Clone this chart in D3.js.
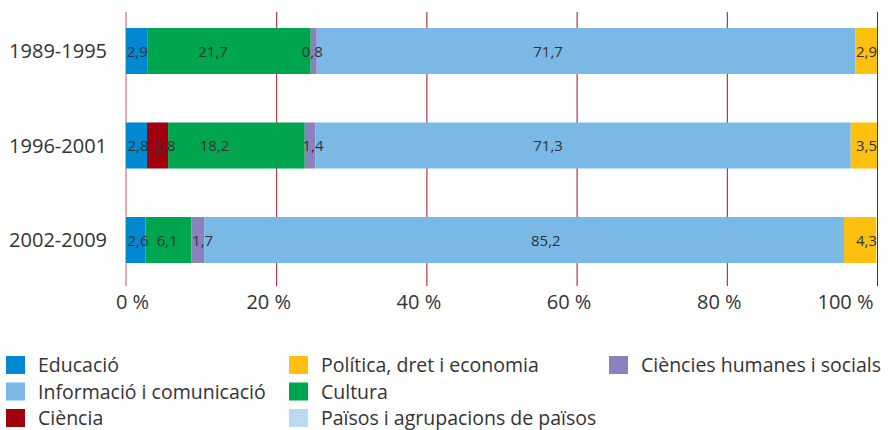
<!DOCTYPE html>
<html>
<head>
<meta charset="utf-8">
<title>Distribució per àmbits</title>
<script src="https://d3js.org/d3.v7.min.js"></script>
<style>
  body { margin: 0; background: #fff; }
  text { font-family: "Open Sans", sans-serif; fill: #333; }
</style>
</head>
<body>
<svg id="chart" width="889" height="430"></svg>
<script>
// periods (rows)
var periods = ["1989-1995", "1996-2001", "2002-2009"];

// segment order inside each bar
var cats = ["Educació", "Ciència", "Cultura", "Ciències humanes i socials",
            "Informació i comunicació", "Política, dret i economia",
            "Països i agrupacions de països"];

var colors = ["#0089d1", "#a0000e", "#00a64f", "#8a81bd",
              "#7ab8e5", "#fdc010", "#bcd9f1"];

// values per category, one per period
var educacio  = [2.9, 2.8, 2.6];
var ciencia   = [0,   2.8, 0];
var cultura   = [21.7, 18.2, 6.1];
var humanes   = [0.8, 1.4, 1.7];
var informacio = [71.7, 71.3, 85.2];
var politica  = [2.9, 3.5, 4.3];
var paisos    = [0, 0, 0];

// where each value label sits (in % along the bar), as in the original
var labelAt = [
  [1.5, null, 11.6, 24.8, 56.2, 98.6, null],
  [1.6, 5.2, 11.8, 24.9, 56.2, 98.6, null],
  [1.6, null, 5.5, 10.2, 55.9, 98.6, null]
];

var ticks = [0, 20, 40, 60, 80, 100];

// legend layout: [category index, column, row]
var legendItems = [
  ["Educació", 0, 0], ["Informació i comunicació", 0, 1], ["Ciència", 0, 2],
  ["Política, dret i economia", 1, 0], ["Cultura", 1, 1],
  ["Països i agrupacions de països", 1, 2], ["Ciències humanes i socials", 2, 0]
];

var series = [educacio, ciencia, cultura, humanes, informacio, politica, paisos];

var svg = d3.select("#chart");

var x = d3.scaleLinear().domain([0, 100]).range([126, 877]);
var y = d3.scaleBand().domain(periods).range([3.75, 287.25])
    .paddingInner(0.513).paddingOuter(0.2565);

var fmt = function(v) { return d3.format(".1f")(v).replace(".", ","); };

// gridlines behind the bars
svg.append("g").selectAll("line")
  .data(ticks).enter().append("line")
  .attr("x1", function(d) { return x(d) + (d === 0 ? 0 : 0.5); })
  .attr("x2", function(d) { return x(d) + (d === 0 ? 0 : 0.5); })
  .attr("y1", 12).attr("y2", 286)
  .attr("stroke", function(d) { return d === 0 ? "#c8505c" : "#a0101c"; })
  .attr("stroke-width", 1);

// stacked segments
var rows = periods.map(function(p, i) {
  var acc = 0;
  return series.map(function(s, k) {
    var seg = { period: p, row: i, cat: k, v: s[i], x0: acc, x1: acc + s[i] };
    acc += s[i];
    return seg;
  });
});

var g = svg.append("g");
rows.forEach(function(segs) {
  g.selectAll(null).data(segs.filter(function(d) { return d.v > 0; }))
    .enter().append("rect")
    .attr("x", function(d) { return x(d.x0); })
    .attr("width", function(d) { return x(d.x1) - x(d.x0); })
    .attr("y", function(d) { return y(d.period); })
    .attr("height", y.bandwidth())
    .attr("fill", function(d) { return colors[d.cat]; });

  g.selectAll(null).data(segs.filter(function(d) { return labelAt[d.row][d.cat] != null; }))
    .enter().append("text")
    .attr("x", function(d) { return x(labelAt[d.row][d.cat]); })
    .attr("y", function(d) { return y(d.period) + y.bandwidth() / 2 + 5.5; })
    .attr("text-anchor", "middle")
    .style("font-size", "15px")
    .text(function(d) { return fmt(d.v); });
});

// period labels
svg.append("g").selectAll("text")
  .data(periods).enter().append("text")
  .attr("x", 107)
  .attr("y", function(d) { return y(d) + y.bandwidth() / 2 + 7; })
  .attr("text-anchor", "end")
  .style("font-size", "20px")
  .text(function(d) { return d; });

// x axis labels
var axis = d3.axisBottom(x).tickValues(ticks).tickSize(0)
  .tickFormat(function(d) { return d + " %"; });
var ax = svg.append("g").attr("transform", "translate(0,292)").call(axis);
ax.select(".domain").remove();
ax.selectAll("text")
  .style("font-size", "20px")
  .style("font-family", "Open Sans, sans-serif")
  .attr("fill", "#333")
  .attr("dx", function(d) { return d === 0 ? 6 : d === 100 ? -32 : -8; });

// legend
var colX = [6, 289, 609];
var lg = svg.append("g").selectAll("g")
  .data(legendItems).enter().append("g")
  .attr("transform", function(d) { return "translate(" + colX[d[1]] + "," + (356 + d[2] * 26.5) + ")"; });
lg.append("rect").attr("width", 19).attr("height", 18)
  .attr("fill", function(d) { return colors[cats.indexOf(d[0])]; });
lg.append("text").attr("x", 32).attr("y", 16)
  .style("font-size", "19.5px")
  .text(function(d) { return d[0]; });
</script>
</body>
</html>
